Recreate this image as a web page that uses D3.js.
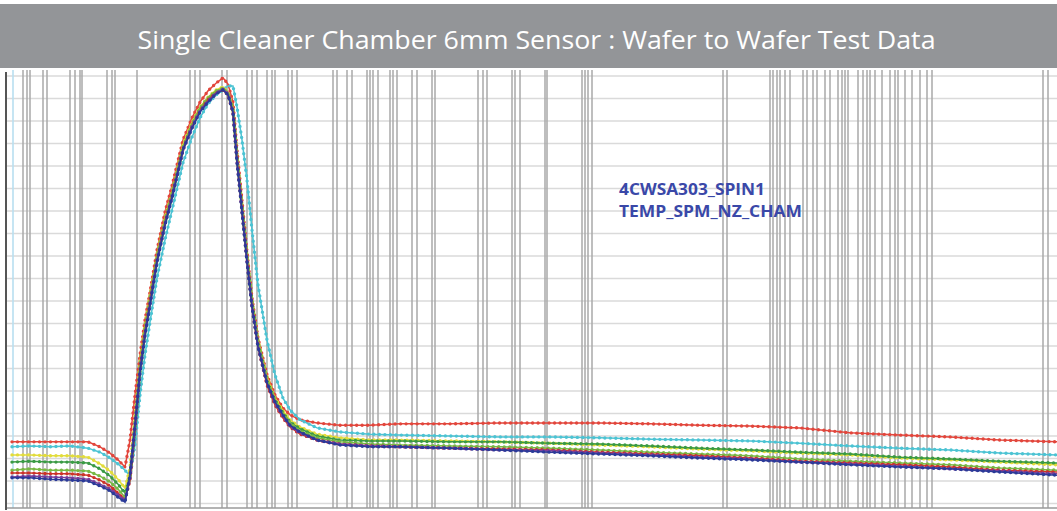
<!DOCTYPE html>
<html>
<head>
<meta charset="utf-8">
<script src="https://cdn.jsdelivr.net/npm/d3@7/dist/d3.min.js"></script>
<style>
  html, body { margin: 0; padding: 0; background: #fff; }
  svg { display: block; }
</style>
</head>
<body>
<svg id="chart" width="1057" height="511"></svg>
<script>
var title = 'Single Cleaner Chamber 6mm Sensor : Wafer to Wafer Test Data';
var tagLines = ['4CWSA303_SPIN1', 'TEMP_SPM_NZ_CHAM'];

// sample times shared by every wafer run
var times = [0, 18, 38, 58, 76, 88, 98, 106, 113, 118, 123, 128, 133, 138,
  145, 153, 160, 171, 180, 188, 196, 204, 211, 216, 221, 225, 230, 235, 240,
  246, 255, 263, 271, 278, 288, 305, 328, 358, 388, 438, 488, 538, 588, 638,
  688, 738, 788, 838, 888, 938, 988, 1045];

// chamber temperature per wafer
var wafer1 = [33.7, 33.7, 33.7, 33.7, 33.7, 32.6, 31.2, 29.7, 28.1, 34.1, 44.1, 53.0, 60.8, 67.0,
  76.3, 84.8, 90.6, 100.8, 105.7, 109.2, 111.7, 113.4, 114.6, 113.2, 109.2, 98.6, 87.4, 75.9, 65.7,
  56.8, 48.6, 44.1, 41.2, 39.7, 38.6, 37.9, 37.4, 37.4, 37.7, 37.7, 37.9, 37.9, 37.9, 37.7,
  37.4, 37.2, 36.8, 35.7, 35.2, 34.8, 34.1, 33.7];
var wafer2 = [32.6, 32.8, 32.6, 32.8, 32.3, 31.4, 30.1, 28.8, 27.4, 26.1, 33.0, 44.1, 53.0, 60.3,
  70.1, 78.6, 85.2, 95.7, 101.4, 105.7, 108.8, 110.8, 111.9, 112.8, 112.8, 108.1, 100.8, 91.9, 80.8,
  68.6, 56.3, 48.6, 43.4, 40.8, 38.6, 36.8, 35.9, 35.4, 35.2, 35.0, 34.8, 34.8, 34.6, 34.3,
  34.1, 33.9, 33.4, 32.8, 32.3, 31.9, 31.2, 30.8];
var wafer3 = [30.8, 30.8, 30.6, 30.6, 30.3, 28.8, 27.2, 25.4, 23.4, 27.9, 39.0, 51.4, 59.7, 66.1,
  75.2, 83.4, 89.2, 99.7, 104.6, 108.1, 110.3, 111.9, 112.6, 111.4, 107.9, 97.4, 86.3, 75.2, 65.2,
  56.3, 48.1, 43.4, 40.6, 38.6, 37.0, 35.4, 34.6, 34.1, 34.1, 33.9, 33.7, 33.4, 33.0, 32.6,
  32.1, 31.7, 31.2, 30.8, 30.1, 29.7, 29.2, 28.6];
var wafer4 = [29.2, 29.4, 29.2, 29.2, 29.0, 27.7, 26.1, 24.3, 22.3, 25.7, 36.8, 49.2, 57.9, 64.6,
  74.1, 82.3, 88.3, 98.8, 103.9, 107.4, 109.9, 111.4, 112.1, 111.0, 107.4, 96.8, 85.7, 74.6, 64.6,
  55.7, 47.4, 43.0, 40.1, 38.1, 36.6, 35.0, 34.1, 33.9, 33.9, 33.7, 33.7, 33.4, 33.2, 32.8,
  32.3, 31.9, 31.4, 31.0, 30.3, 29.9, 29.4, 29.0];
var wafer5 = [27.4, 27.7, 27.4, 27.4, 27.2, 26.1, 24.8, 23.2, 21.4, 25.7, 38.1, 50.6, 59.0, 65.7,
  74.8, 83.0, 89.0, 99.2, 104.3, 107.9, 110.1, 111.7, 112.3, 111.2, 107.4, 97.0, 85.9, 74.8, 64.8,
  55.9, 47.4, 42.8, 39.9, 37.9, 36.1, 34.6, 33.7, 33.2, 33.0, 32.8, 32.6, 32.3, 31.9, 31.4,
  31.0, 30.6, 29.9, 29.4, 29.0, 28.6, 27.9, 27.4];
var wafer6 = [26.8, 26.8, 26.6, 26.6, 26.3, 25.2, 23.9, 22.3, 20.8, 25.2, 36.8, 49.7, 58.1, 64.8,
  74.1, 82.3, 88.3, 98.6, 103.7, 107.2, 109.7, 111.2, 111.9, 110.8, 106.8, 96.3, 85.2, 74.1, 63.9,
  54.8, 46.3, 41.9, 39.0, 37.0, 35.4, 34.1, 33.2, 32.8, 32.6, 32.3, 32.1, 31.9, 31.4, 31.0,
  30.6, 30.1, 29.4, 29.0, 28.6, 28.1, 27.4, 27.0];
var wafer7 = [25.9, 26.1, 25.9, 25.7, 25.4, 24.3, 23.2, 21.9, 20.6, 25.7, 37.0, 49.4, 57.7, 64.3,
  73.9, 82.1, 88.1, 98.6, 103.7, 107.2, 109.4, 111.2, 112.1, 111.0, 107.0, 96.1, 85.0, 73.9, 63.9,
  55.0, 46.8, 42.3, 39.4, 37.2, 35.7, 34.1, 33.2, 32.8, 32.6, 32.3, 31.9, 31.7, 31.2, 30.8,
  30.3, 29.9, 29.2, 28.8, 28.3, 27.7, 27.2, 26.6];
var wafer8 = [25.7, 25.7, 25.4, 25.2, 25.0, 23.9, 22.8, 21.4, 20.3, 26.3, 37.4, 49.2, 57.4, 64.1,
  73.7, 81.9, 87.9, 98.6, 103.4, 107.0, 109.2, 111.0, 111.9, 110.8, 107.0, 95.9, 84.8, 73.7, 63.7,
  54.8, 46.8, 42.6, 39.7, 37.4, 35.9, 34.1, 33.0, 32.6, 32.6, 32.3, 31.9, 31.4, 31.0, 30.6,
  30.1, 29.7, 29.2, 28.6, 28.1, 27.7, 27.0, 26.3];

// step event markers (vertical lines), same time units
var eventTimes = [11, 15, 18, 31, 35, 58, 63, 68, 70, 95, 100, 103, 125, 178, 183, 188,
  210, 215, 235, 240, 245, 255, 260, 263, 276, 280, 285, 321, 325, 335, 340, 355, 358, 361,
  366, 378, 381, 385, 400, 405, 420, 423, 466, 471, 475, 500, 503, 508, 533, 535, 570, 573,
  576, 580, 711, 715, 758, 761, 765, 768, 773, 778, 791, 795, 801, 805, 813, 818, 826, 830,
  833, 836, 846, 851, 855, 858, 863, 870, 878, 883, 886, 893, 900, 908, 915, 920, 1031, 1036];
var cursorTime = 1;
var tempTicks = d3.range(20, 116, 5);

var wafers = [wafer1, wafer2, wafer3, wafer4, wafer5, wafer6, wafer7, wafer8];
var colors = ['#e2463c', '#4cc3d3', '#e2dc3c', '#3a9a44', '#78b844', '#cc3328', '#7a3f9c', '#2b3a98'];

var svg = d3.select('#chart');
var W = 1057, H = 511;
var plot = { left: 6, right: 1057, top: 70, bottom: 508 };

var x = d3.scaleLinear().domain([-6, 1045]).range([plot.left, plot.right]);
var y = d3.scaleLinear().domain([19, 116]).range([plot.bottom, 71.5]);

// title bar
svg.append('rect')
  .attr('x', 0).attr('y', 4)
  .attr('width', W).attr('height', 64)
  .attr('fill', '#939598');

svg.append('text')
  .attr('x', W / 2 + 8).attr('y', 49)
  .attr('text-anchor', 'middle')
  .attr('fill', '#fff')
  .attr('font-family', 'Open Sans, sans-serif')
  .attr('font-size', 25)
  .attr('textLength', 798)
  .attr('lengthAdjust', 'spacingAndGlyphs')
  .text(title);

var g = svg.append('g');

// horizontal grid
g.selectAll('line.hgrid')
  .data(tempTicks)
  .enter().append('line')
  .attr('class', 'hgrid')
  .attr('x1', plot.left).attr('x2', plot.right)
  .attr('y1', function(d) { return y(d); })
  .attr('y2', function(d) { return y(d); })
  .attr('stroke', '#dadada')
  .attr('stroke-width', 1.5);

// event lines
g.selectAll('line.vgrid')
  .data(eventTimes)
  .enter().append('line')
  .attr('class', 'vgrid')
  .attr('x1', function(d) { return x(d); })
  .attr('x2', function(d) { return x(d); })
  .attr('y1', plot.top).attr('y2', plot.bottom)
  .attr('stroke', '#a9a9a9')
  .attr('stroke-width', 1.5);

g.append('line')
  .attr('x1', x(cursorTime)).attr('x2', x(cursorTime))
  .attr('y1', plot.top).attr('y2', plot.bottom)
  .attr('stroke', '#b8dff0')
  .attr('stroke-width', 1.6);

// axes frame
g.append('line')
  .attr('x1', plot.left).attr('x2', plot.right)
  .attr('y1', plot.bottom).attr('y2', plot.bottom)
  .attr('stroke', '#9a9a9a').attr('stroke-width', 1.5);
g.append('line')
  .attr('x1', plot.left).attr('x2', plot.left)
  .attr('y1', plot.top + 2).attr('y2', plot.bottom + 2)
  .attr('stroke', '#555').attr('stroke-width', 2);

var line = d3.line()
  .x(function(d, i) { return x(times[i]); })
  .y(function(d) { return y(d); });

var runs = g.selectAll('g.run')
  .data(wafers)
  .enter().append('g')
  .attr('class', 'run');

runs.append('path')
  .attr('d', line)
  .attr('fill', 'none')
  .attr('stroke', function(d, i) { return colors[i]; })
  .attr('stroke-width', 1.5);

// dotted markers along each run
runs.append('path')
  .attr('d', line)
  .attr('fill', 'none')
  .attr('stroke', function(d, i) { return colors[i]; })
  .attr('stroke-width', 3.4)
  .attr('stroke-linecap', 'round')
  .attr('stroke-dasharray', '0,5.5');

// tag text
svg.selectAll('text.tag')
  .data(tagLines)
  .enter().append('text')
  .attr('class', 'tag')
  .attr('x', 619)
  .attr('y', function(d, i) { return 195 + i * 22; })
  .attr('fill', '#3a48a8')
  .attr('font-family', 'Open Sans, sans-serif')
  .attr('font-weight', 'bold')
  .attr('font-size', 16)
  .attr('textLength', function(d, i) { return i ? 183 : 146; })
  .attr('lengthAdjust', 'spacingAndGlyphs')
  .text(function(d) { return d; });
</script>
</body>
</html>
